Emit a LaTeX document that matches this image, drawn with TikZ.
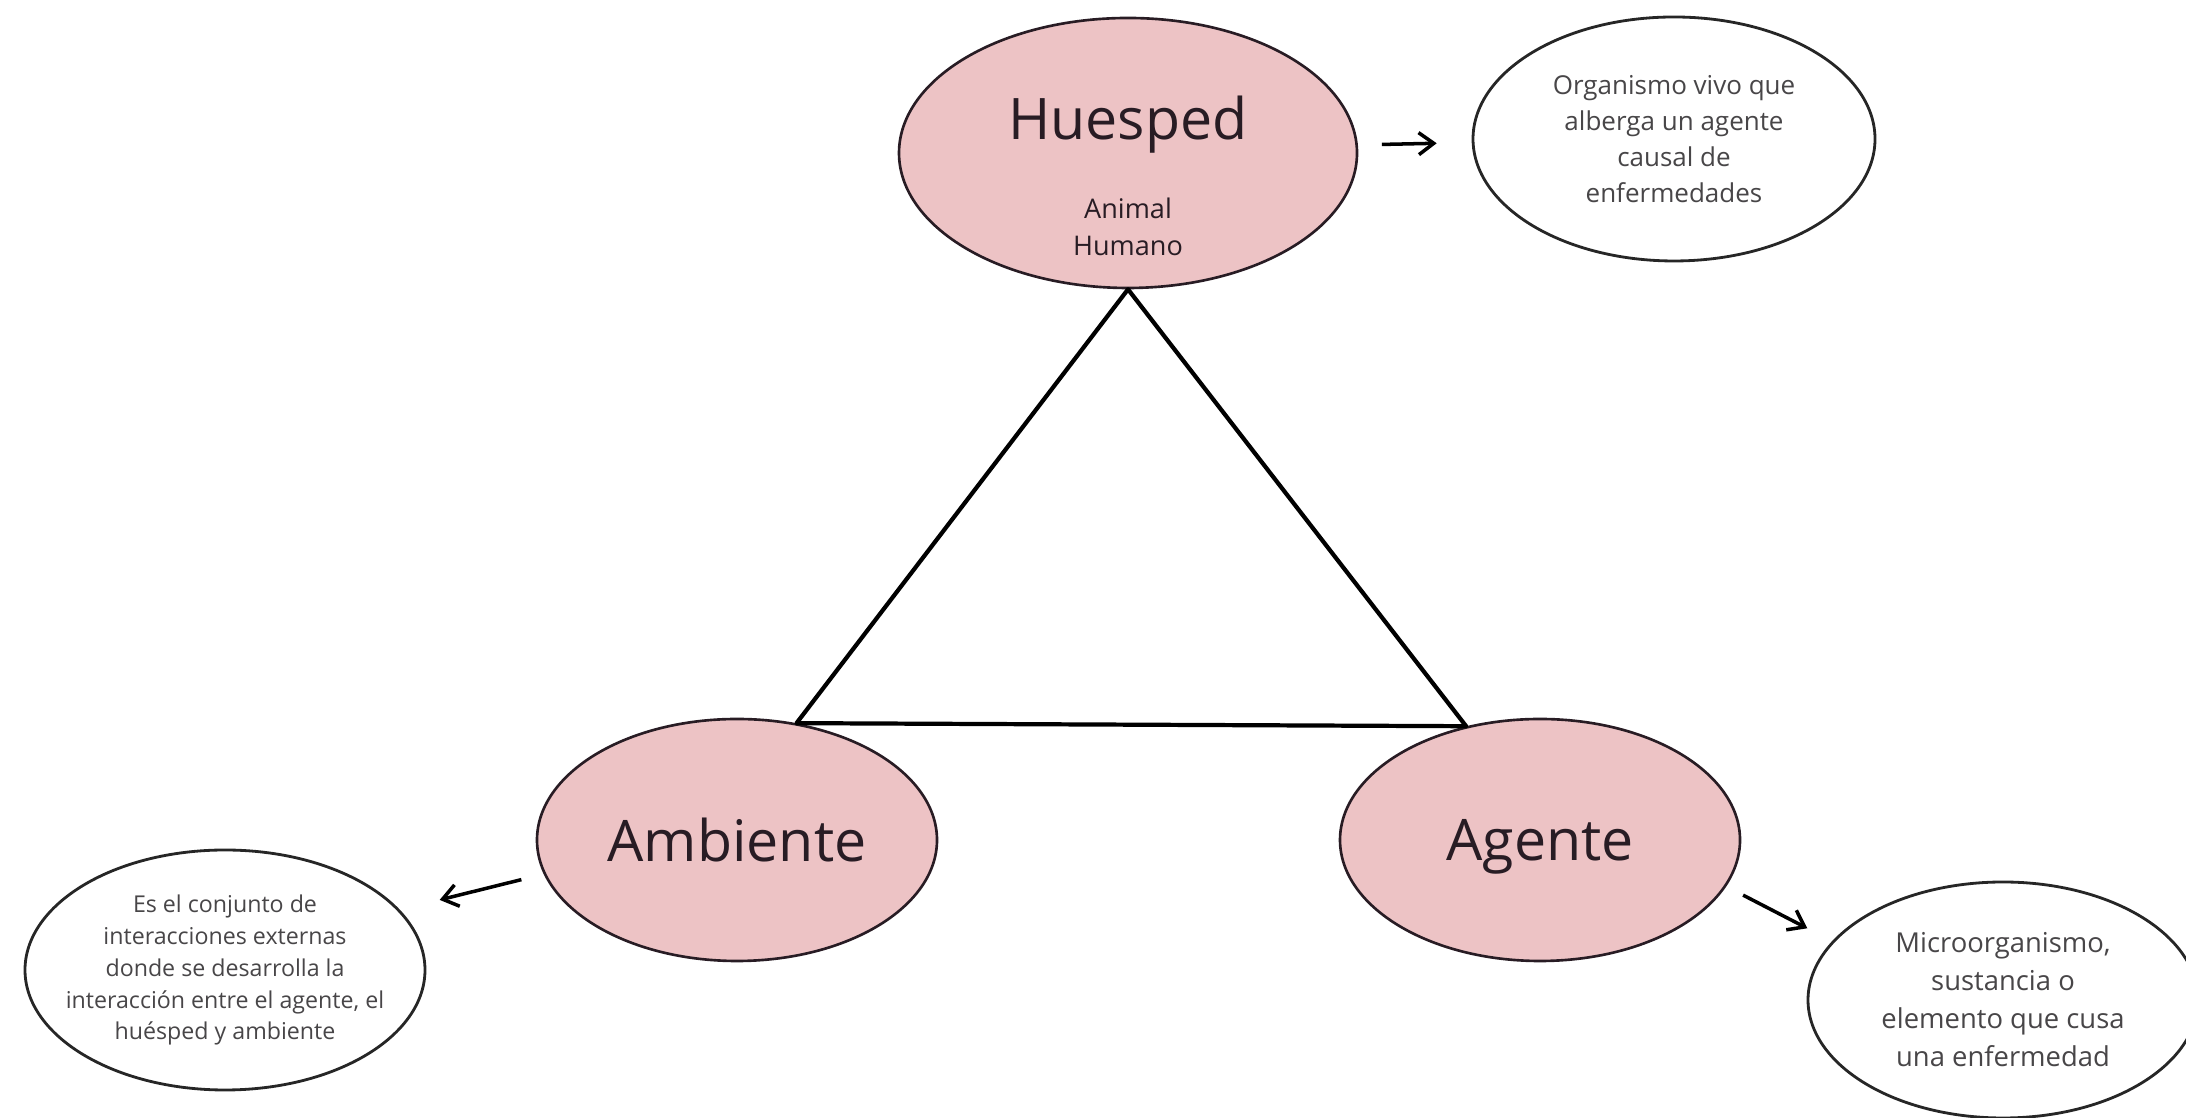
\documentclass[tikz,border=0pt]{standalone}
\usepackage{fontspec}
\setmainfont{Open Sans}
\usetikzlibrary{shapes.geometric,arrows.meta}
\definecolor{rosa}{RGB}{237,195,197}
\definecolor{borde}{RGB}{40,28,36}
\definecolor{texto}{RGB}{72,70,72}

\begin{document}
\begin{tikzpicture}[
    main/.style={ellipse, draw=borde, line width=0.75pt, fill=rosa, inner sep=0pt, text=borde, text depth=0pt, font=\fontsize{16.3}{19}\selectfont},
    desc/.style={ellipse, draw=black!85, line width=0.8pt, fill=white, inner sep=-0.3cm, align=center, text=texto},
    arrow/.style={-{Straight Barb[length=1.5mm,width=2.2mm]}, line width=1pt},
    side/.style={line width=1.2pt, line join=round}
]
\useasboundingbox (0,0) rectangle (21.86,11.18);

% Huesped
\node[main, minimum width=4.58cm, minimum height=2.70cm] (huesped) at (11.28,9.65) {};
\node[anchor=base, text=borde, font=\fontsize{16.3}{19}\selectfont] (huesptxt) at (11.28,9.78) {Huesped};
\node[align=center, text=borde, font=\fontsize{7.7}{10.5}\selectfont] (tipos) at (11.28,8.91) {Animal\\Humano};

% Ambiente y Agente
\node[main, minimum width=4.0cm, minimum height=2.42cm] (ambiente) at (7.37,2.78) {Ambiente};
\node[main, minimum width=4.0cm, minimum height=2.42cm] (agente) at (15.40,2.78) {Agente};

% Triangulo
\draw[side] (huesped.south) -- (ambiente.63) -- (agente.123) -- cycle;

% Definiciones
\node[desc, minimum width=4.02cm, minimum height=2.44cm, font=\fontsize{7.4}{10.2}\selectfont] (org) at (16.74,9.79)
    {Organismo vivo que\\alberga un agente\\causal de\\enfermedades};
\node[desc, minimum width=4.0cm, minimum height=2.4cm, font=\fontsize{6.6}{9.1}\selectfont] (ambdesc) at (2.25,1.48)
    {Es el conjunto de\\interacciones externas\\donde se desarrolla la\\interacción entre el agente, el\\huésped y ambiente};
\node[desc, minimum width=3.9cm, minimum height=2.36cm, font=\fontsize{7.8}{10.8}\selectfont] (agdesc) at (20.03,1.18)
    {Microorganismo,\\sustancia o\\elemento que cusa\\una enfermedad};

% Flechas
\draw[arrow, shorten <=0.24cm, shorten >=0.35cm] (huesped.2.5) -- (org.181);
\draw[arrow, shorten <=0.23cm, shorten >=0.41cm] (ambiente.190) -- (ambdesc.19);
\draw[arrow, shorten <=0.19cm, shorten >=0.28cm] (agente.-14.5) -- (agdesc.161.6);

\end{tikzpicture}
\end{document}
